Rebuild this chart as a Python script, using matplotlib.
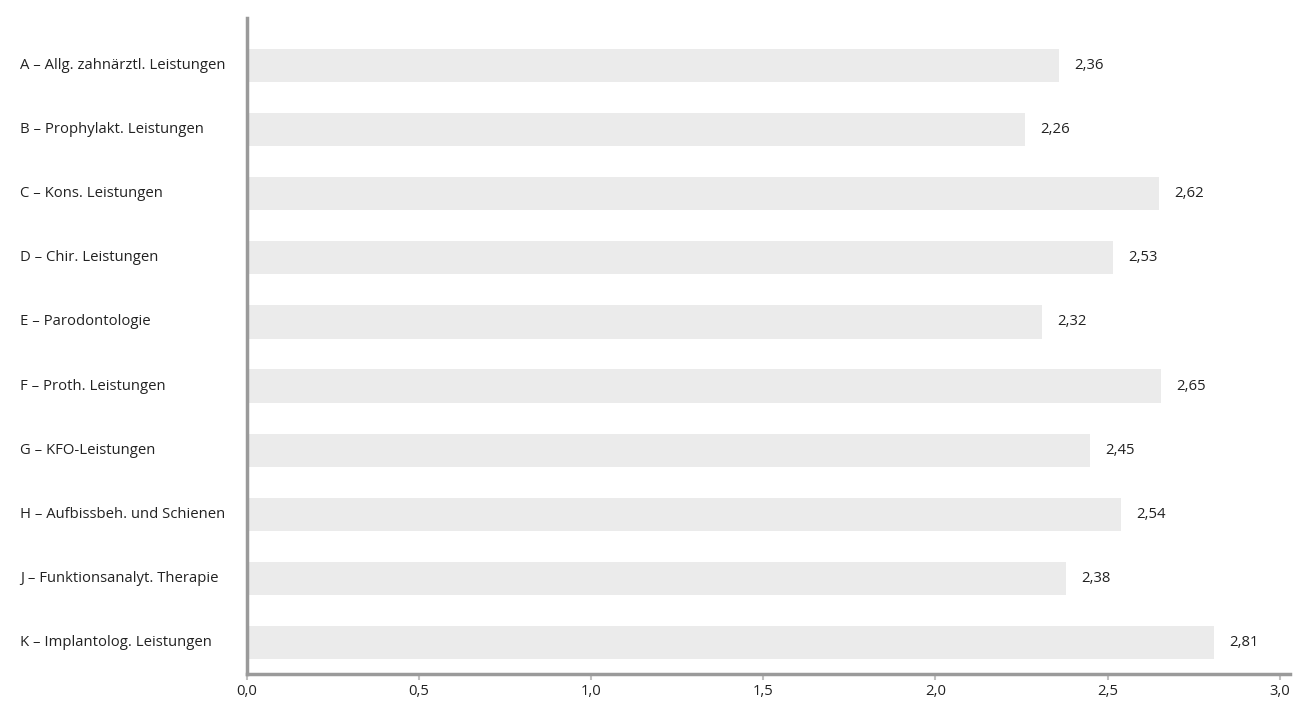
import matplotlib
matplotlib.use("Agg")
import matplotlib.pyplot as plt
import matplotlib.transforms as mtransforms

categories = [
    "A – Allg. zahnärztl. Leistungen",
    "B – Prophylakt. Leistungen",
    "C – Kons. Leistungen",
    "D – Chir. Leistungen",
    "E – Parodontologie",
    "F – Proth. Leistungen",
    "G – KFO-Leistungen",
    "H – Aufbissbeh. und Schienen",
    "J – Funktionsanalyt. Therapie",
    "K – Implantolog. Leistungen",
]
# bar lengths as drawn in the picture
bar_values = [2.36, 2.26, 2.65, 2.515, 2.31, 2.655, 2.45, 2.54, 2.38, 2.81]
# printed labels
value_labels = ["2,36", "2,26", "2,62", "2,53", "2,32", "2,65", "2,45", "2,54", "2,38", "2,81"]
xticks = [0.0, 0.5, 1.0, 1.5, 2.0, 2.5, 3.0]

BAR_COLOR = "#ebebeb"
AXIS_COLOR = "#9a9a9a"
TEXT_COLOR = "#222222"
FS = 10.7

plt.rcParams["font.family"] = ["Open Sans", "DejaVu Sans"]

fig = plt.figure(figsize=(13.01, 7.02), dpi=100)
ax = fig.add_axes([0.1899, 0.0399, 0.8016, 0.9345])

pos = list(range(len(categories)))
ax.barh(pos, bar_values, height=0.52, color=BAR_COLOR)

for y, v, lab in zip(pos, bar_values, value_labels):
    ax.annotate(lab, (v, y), xytext=(11, 0), textcoords="offset points",
                va="center", ha="left", color=TEXT_COLOR, fontsize=FS)

ax.set_ylim(len(categories) - 1 + 0.49, -0.74)
ax.set_xlim(0, 3.03)
ax.set_yticks([])
ax.set_xticks(xticks)
ax.set_xticklabels([f"{t:.1f}".replace(".", ",") for t in xticks],
                   color=TEXT_COLOR, fontsize=FS)
ax.tick_params(axis="x", length=4, width=1.5, color="#c0c0c0", pad=3)

for s in ("top", "right"):
    ax.spines[s].set_visible(False)
for s in ("left", "bottom"):
    ax.spines[s].set_color(AXIS_COLOR)
    ax.spines[s].set_linewidth(2.5)

# category labels left-aligned at the figure's left margin
trans = mtransforms.blended_transform_factory(fig.transFigure, ax.transData)
for y, c in zip(pos, categories):
    ax.text(20 / 1301, y, c, transform=trans, ha="left", va="center",
            color=TEXT_COLOR, fontsize=FS)

fig.savefig("out.png", dpi=100)
